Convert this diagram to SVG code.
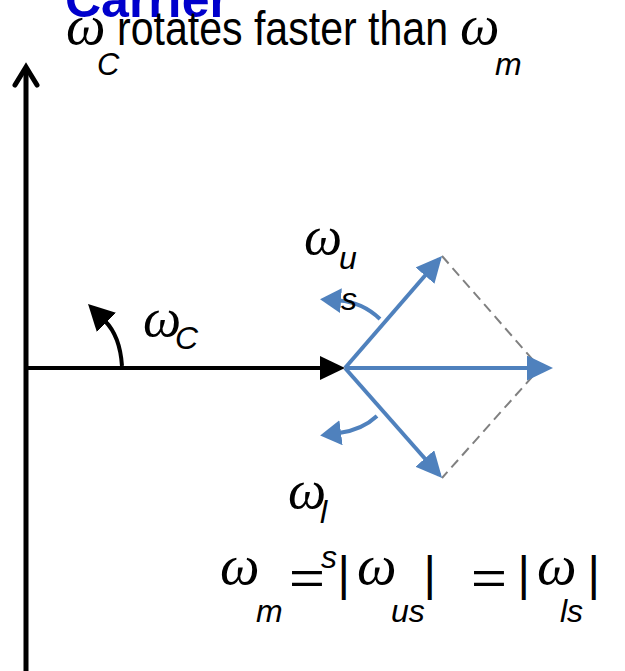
<svg xmlns="http://www.w3.org/2000/svg" width="625" height="671" viewBox="0 0 625 671">
<style>
.w{font-family:"Liberation Serif",serif;font-style:italic;font-size:56px;fill:#000}
.sub{font-family:"Liberation Sans",Arial,sans-serif;font-style:italic;font-size:32px;fill:#000}
.t{font-family:"Liberation Sans",Arial,sans-serif;fill:#000}
.blue{stroke:#4F81BD;stroke-width:4;fill:none}
.blk{stroke:#000;stroke-width:4;fill:none}
</style>
<defs>
<marker id="hb" markerUnits="userSpaceOnUse" markerWidth="26" markerHeight="25" refX="22" refY="12.5" orient="auto"><path d="M0,0 L26,12.5 L0,25 z" fill="#4F81BD"/></marker>
<marker id="hbc" markerUnits="userSpaceOnUse" markerWidth="21" markerHeight="25" refX="2" refY="12.5" orient="auto"><path d="M0,0 L21,12.5 L0,25 z" fill="#4F81BD"/></marker>
<marker id="hk" markerUnits="userSpaceOnUse" markerWidth="25" markerHeight="24" refX="21" refY="12" orient="auto"><path d="M0,0 L25,12 L0,24 z" fill="#000"/></marker>
<marker id="hkc" markerUnits="userSpaceOnUse" markerWidth="26" markerHeight="27" refX="2" refY="13.5" orient="auto"><path d="M0,0 L26,13.5 L0,27 z" fill="#000"/></marker>
</defs>

<g id="title">
<text x="65" y="17" class="t" style="font-weight:bold;font-size:50px;fill:#0000CC">Carrier</text>
<text x="66" y="44" class="w">ω</text>
<text x="97" y="75" class="sub" style="font-size:31px">C</text>
<text x="117" y="45" class="t" style="font-size:48px" textLength="331" lengthAdjust="spacingAndGlyphs">rotates faster than</text>
<text x="460" y="44" class="w">ω</text>
<text x="495" y="75" class="sub">m</text>
</g>

<g id="axis">
<line x1="26" y1="671" x2="26" y2="67" stroke="#000" stroke-width="5"/>
<polyline points="15,85 26,67 37,85" fill="none" stroke="#000" stroke-width="5" stroke-linecap="round" stroke-linejoin="miter"/>
</g>

<g id="connectors">
<line x1="24" y1="368" x2="341" y2="368" class="blk" marker-end="url(#hk)"/>
<path d="M122,366 Q120,336 105,321" class="blk" marker-end="url(#hkc)"/>
<path d="M442,256 L540,368 L442,478" fill="none" stroke="#808080" stroke-width="2" stroke-dasharray="10,6"/>
<line x1="345" y1="368" x2="439.4" y2="259" class="blue" marker-end="url(#hb)"/>
<line x1="345" y1="368" x2="439.4" y2="475" class="blue" marker-end="url(#hb)"/>
<line x1="345" y1="368" x2="549" y2="368" class="blue" marker-end="url(#hb)"/>
<path d="M380,319 Q362,302 339,300.5" class="blue" marker-end="url(#hbc)"/>
<path d="M377,416 Q362,430 339,433" class="blue" marker-end="url(#hbc)"/>
</g>

<g id="label-wc">
<text x="143" y="336" class="w" style="font-size:54px">ω</text>
<text x="175" y="349" class="sub">C</text>
</g>

<g id="label-wus">
<text x="304" y="254" class="w" style="font-size:54px">ω</text>
<text x="339" y="269" class="sub">u</text>
<text x="341" y="310" class="sub">s</text>
</g>

<g id="label-wls">
<text x="288" y="508" class="w" style="font-size:54px">ω</text>
<text x="320" y="523" class="sub">l</text>
</g>

<g id="equation">
<text x="220" y="584" class="w">ω</text>
<text x="256" y="622" class="sub">m</text>
<text x="289" y="594" class="t" style="font-size:46px" textLength="36" lengthAdjust="spacingAndGlyphs">=</text>
<text x="321" y="568" class="sub">s</text>
<text x="337.5" y="590" class="t" style="font-size:48px">|</text>
<text x="357" y="584" class="w">ω</text>
<text x="391" y="622" class="sub">us</text>
<text x="423.5" y="590" class="t" style="font-size:48px">|</text>
<text x="471" y="594" class="t" style="font-size:46px" textLength="36" lengthAdjust="spacingAndGlyphs">=</text>
<text x="517.5" y="590" class="t" style="font-size:48px">|</text>
<text x="537" y="584" class="w">ω</text>
<text x="560" y="622" class="sub">ls</text>
<text x="587.5" y="590" class="t" style="font-size:48px">|</text>
</g>
</svg>
